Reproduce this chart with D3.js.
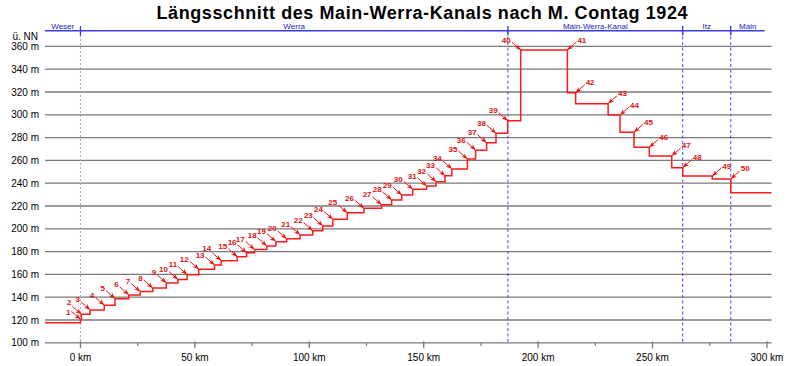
<!DOCTYPE html>
<html><head><meta charset="utf-8">
<script src="https://cdn.jsdelivr.net/npm/d3@7"></script>
<style>
html,body{margin:0;padding:0;background:#fff;}
svg{display:block;font-family:"Liberation Sans",Arial,sans-serif;}
</style></head>
<body><svg id="c" width="800" height="366"></svg>
<script>
// ---- data ----
const titleText = "Längsschnitt des Main-Werra-Kanals nach M. Contag 1924";
const startLevel = 117.5;           // Weser level (m ü. NN)
const kmRange = [-15.5, 302];
const lockNo = d3.range(1, 51);
const lockKm = [0, 0.4, 4.2, 10.4, 15.1, 21.1, 26.1, 31.6, 37.5, 42.6, 46.6, 51.7, 58.6, 61.5, 68.5, 72.6, 76.1, 81.4, 85.4, 90.1,
  96.0, 101.5, 105.9, 110.3, 116.6, 123.9, 131.6, 136.0, 140.4, 145.2, 151.3, 155.4, 159.3, 162.3, 169.1, 172.7, 177.5, 181.6, 186.7, 192.4,
  212.8, 216.4, 230.6, 235.8, 241.9, 248.6, 258.4, 263.2, 276.1, 284.2];
const levelAfter = [120.5, 125, 128.8, 133, 138.7, 142, 145, 148, 152.5, 155.5, 159.8, 164.5, 168.2, 172, 175.5, 179, 181.8, 185, 188.7, 191.2,
  194.6, 198.3, 202.5, 208.3, 214, 218, 221, 225.3, 229.6, 234.6, 237.5, 241.3, 246.5, 252.5, 261.2, 269, 275.5, 283.8, 294.8, 356.8,
  319.3, 309.8, 299.8, 284.6, 271.5, 263.9, 253.6, 246.3, 243.7, 231.7];
const sectionNames = ["Weser", "Werra", "Main-Werra-Kanal", "Itz", "Main"];
const sectionBounds = [-15.5, 0, 186.8, 263.2, 284.2, 299];
const yTicks = d3.range(100, 361, 20);
const xTicks = [0, 50, 100, 150, 200, 250, 300];
const xMinor = [25, 75, 125, 175, 225, 275];

// ---- scales ----
const x = d3.scaleLinear().domain(kmRange).range([45, 771.5]);
const y = d3.scaleLinear().domain([100, 360]).range([342.8, 46.4]);
const svg = d3.select("#c");

// title
svg.append("text").attr("x", 422).attr("y", 19).attr("text-anchor", "middle")
  .attr("font-size", 18).attr("font-weight", "bold").attr("textLength", 531).attr("lengthAdjust", "spacing")
  .text(titleText);

// grid lines
svg.append("g").selectAll("line").data(yTicks).join("line")
  .attr("x1", x(kmRange[0])).attr("x2", x(kmRange[1]))
  .attr("y1", d => y(d)).attr("y2", d => y(d))
  .attr("stroke", "#7a7a7a").attr("stroke-width", 1.3);

// y labels
svg.append("g").selectAll("text").data(yTicks).join("text")
  .attr("x", 39).attr("y", d => y(d) + 3.5).attr("text-anchor", "end")
  .attr("font-size", 10).text(d => d + " m");
svg.append("text").attr("x", 38).attr("y", 39.5).attr("text-anchor", "end").attr("font-size", 10).text("ü. NN");

// x axis ticks
const axisY = y(100);
svg.append("g").selectAll("line").data(xTicks).join("line")
  .attr("x1", d => x(d)).attr("x2", d => x(d)).attr("y1", axisY - 1.5).attr("y2", axisY + 5.5)
  .attr("stroke", "#7a7a7a").attr("stroke-width", 1.3);
svg.append("g").selectAll("line").data(xMinor).join("line")
  .attr("x1", d => x(d)).attr("x2", d => x(d)).attr("y1", axisY).attr("y2", axisY + 3)
  .attr("stroke", "#7a7a7a").attr("stroke-width", 1.3);
svg.append("g").selectAll("text").data(xTicks).join("text")
  .attr("x", d => x(d)).attr("y", 361).attr("text-anchor", "middle").attr("font-size", 10)
  .text(d => d + " km");

// vertical section dividers
const divs = sectionBounds.slice(1, 5);
svg.append("g").selectAll("line").data(divs).join("line")
  .attr("x1", d => x(d)).attr("x2", d => x(d)).attr("y1", 31).attr("y2", axisY)
  .attr("stroke", (d, i) => i === 0 ? "#a8a8c8" : "#4848d8")
  .attr("stroke-width", 1).attr("stroke-dasharray", (d, i) => i === 0 ? "2,2" : "3,2.5");

// header
svg.append("line").attr("x1", x(sectionBounds[0])).attr("x2", x(sectionBounds[5]))
  .attr("y1", 30.7).attr("y2", 30.7).attr("stroke", "#3c3cdc").attr("stroke-width", 1.6);
svg.append("g").selectAll("line").data(divs).join("line")
  .attr("x1", d => x(d)).attr("x2", d => x(d)).attr("y1", 26).attr("y2", 35.5)
  .attr("stroke", "#3c3cdc").attr("stroke-width", 1.3);
svg.append("g").selectAll("text").data(sectionNames).join("text")
  .attr("x", (d, i) => x((sectionBounds[i] + sectionBounds[i + 1]) / 2)).attr("y", 28.5)
  .attr("text-anchor", "middle").attr("font-size", 8).attr("fill", "#1a1acc").text(d => d);

// profile
const pts = [[kmRange[0], startLevel]].concat(lockKm.map((k, i) => [k, levelAfter[i]])).concat([[kmRange[1], levelAfter[49]]]);
svg.append("path").attr("d", d3.line().x(d => x(d[0])).y(d => y(d[1])).curve(d3.curveStepAfter)(pts))
  .attr("fill", "none").attr("stroke", "#ff1a1a").attr("stroke-width", 1.5);

// arrows
svg.append("defs").append("marker").attr("id", "ah").attr("viewBox", "0 0 10 10")
  .attr("refX", 9).attr("refY", 5).attr("markerWidth", 6).attr("markerHeight", 6)
  .attr("markerUnits", "userSpaceOnUse").attr("orient", "auto")
  .append("path").attr("d", "M0,1 L10,5 L0,9 L3,5 Z").attr("fill", "#ee1111");

const nudge = {1: 3.2, 2: -1.6, 14: -2.2};
const locks = lockNo.map((n, i) => {
  const prev = i === 0 ? startLevel : levelAfter[i - 1];
  const up = levelAfter[i] > prev;
  const tx = x(lockKm[i]), ty = y(Math.max(prev, levelAfter[i]));
  return {n, up, tx, ty, sx: up ? tx - 9 : tx + 9, sy: ty - 8};
});
const g = svg.append("g");
g.selectAll("line").data(locks).join("line")
  .attr("x1", d => d.sx).attr("y1", d => d.sy).attr("x2", d => d.tx - (d.up ? 0.5 : -0.5)).attr("y2", d => d.ty - 0.5)
  .attr("stroke", "#ee1111").attr("stroke-width", 1).attr("marker-end", "url(#ah)");
g.selectAll("text").data(locks).join("text")
  .attr("x", d => d.up ? d.sx - 1 : d.sx + 1).attr("y", d => d.sy + 0.5 + (nudge[d.n] || 0))
  .attr("text-anchor", d => d.up ? "end" : "start")
  .attr("font-size", 8).attr("font-weight", "bold").attr("fill", "#e01010").text(d => d.n);
</script></body></html>
